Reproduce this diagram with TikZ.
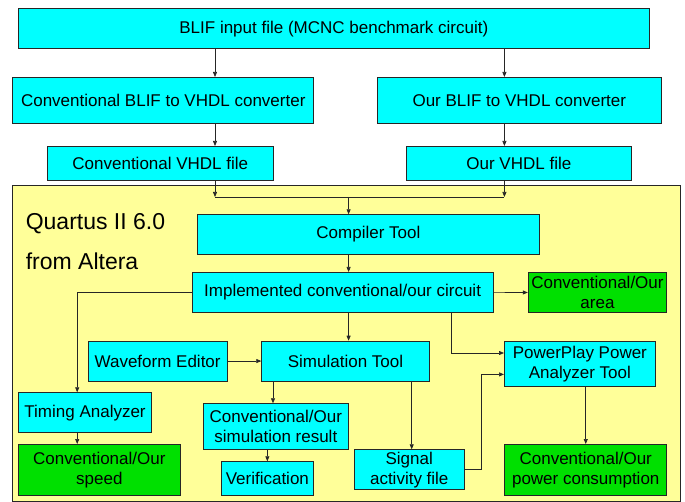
\documentclass[tikz,border=0pt]{standalone}
\usepackage{fontspec}
\setmainfont{Liberation Sans}
\usetikzlibrary{arrows.meta}

\definecolor{toolcyan}{RGB}{0,255,255}
\definecolor{resgreen}{RGB}{0,224,0}
\definecolor{qyellow}{RGB}{255,255,153}

\tikzset{
  box/.style={draw=black!85, line width=0.7pt, fill=toolcyan, inner sep=1pt,
    anchor=north west, align=center, font=\fontsize{17}{20}\selectfont},
  resbox/.style={box, fill=resgreen},
  arr/.style={draw=black!85, line width=0.7pt, -{Triangle[length=5pt,width=4pt]}},
  ln/.style={draw=black!85, line width=0.7pt}
}

\begin{document}
\begin{tikzpicture}[x=1pt,y=-1pt]
  \useasboundingbox (0,0) rectangle (685,502);

  % Quartus area
  \node[box, fill=qyellow, minimum width=668pt, minimum height=315.7pt] (quartus) at (12.4,185) {};
  \node[anchor=base west, inner sep=0pt, font=\fontsize{23}{26}\selectfont] (qname) at (25.6,229.3) {Quartus II 6.0};
  \node[anchor=base west, inner sep=0pt, font=\fontsize{23}{26}\selectfont] (qvendor) at (25.6,270) {from Altera};

  % input and converters
  \node[box, minimum width=631pt, minimum height=40pt] (blif) at (18,8.3) {BLIF input file (MCNC benchmark circuit)};
  \node[box, minimum width=301pt, minimum height=46pt] (convconv) at (12.4,77) {Conventional BLIF to VHDL converter};
  \node[box, minimum width=283.3pt, minimum height=46pt] (ourconv) at (377.3,77) {Our BLIF to VHDL converter};
  \node[box, minimum width=225.5pt, minimum height=34pt] (convvhdl) at (47.2,146) {Conventional VHDL file};
  \node[box, minimum width=225pt, minimum height=34pt] (ourvhdl) at (406,146) {Our VHDL file};

  % tools
  \node[box, minimum width=341.5pt, minimum height=39.7pt] (compiler) at (197.3,214.3) {Compiler Tool};
  \node[box, minimum width=300.5pt, minimum height=40pt] (impl) at (192,272) {Implemented conventional/our circuit};
  \node[resbox, minimum width=138.6pt, minimum height=40.3pt] (area) at (527.8,272) {Conventional/Our\\area};
  \node[box, minimum width=139pt, minimum height=40pt] (wave) at (87.8,340.7) {Waveform Editor};
  \node[box, minimum width=167.7pt, minimum height=40pt] (sim) at (261.3,340.7) {Simulation Tool};
  \node[box, minimum width=151pt, minimum height=45.3pt] (pp) at (504,340.7) {PowerPlay Power\\Analyzer Tool};
  \node[box, minimum width=133.4pt, minimum height=40pt] (timing) at (18,392.3) {Timing Analyzer};
  \node[resbox, minimum width=162pt, minimum height=51pt] (speed) at (18,444) {Conventional/Our\\speed};
  \node[box, minimum width=145pt, minimum height=45.7pt] (result) at (203,403.3) {Conventional/Our\\simulation result};
  \node[box, minimum width=92.6pt, minimum height=33.7pt] (verif) at (220.7,461.3) {Verification};
  \node[box, minimum width=109.8pt, minimum height=40pt] (signal) at (354,449.3) {Signal\\activity file};
  \node[resbox, minimum width=162pt, minimum height=51pt] (power) at (504.4,444) {Conventional/Our\\power consumption};

  % connector tracks
  \coordinate (cl) at (215,0);
  \coordinate (cr) at (504.4,0);
  \coordinate (mid) at (348.6,197);
  \coordinate (ct) at (77.2,0);
  \coordinate (cp) at (451.5,0);
  \coordinate (cs) at (273,0);
  \coordinate (ca) at (411.7,0);

  \draw[arr] (blif.south -| cl) -- (convconv.north -| cl);
  \draw[arr] (blif.south -| cr) -- (ourconv.north -| cr);
  \draw[arr] (convconv.south -| cl) -- (convvhdl.north -| cl);
  \draw[arr] (ourconv.south -| cr) -- (ourvhdl.north -| cr);
  \draw[arr] (convvhdl.south -| cl) -- (mid -| cl);
  \draw[arr] (ourvhdl.south -| cr) -- (mid -| cr);
  \draw[ln] (mid -| cl) -- (mid -| cr);
  \draw[arr] (mid) -- (compiler.north -| mid);
  \draw[arr] (compiler.south -| mid) -- (impl.north -| mid);
  \draw[arr] (impl.east) -- (area.west);
  \draw[arr] (impl.west) -| (timing.north -| ct);
  \draw[arr] (timing.south -| ct) -- (speed.north -| ct);
  \draw[arr] (impl.south -| mid) -- (sim.north -| mid);
  \draw[arr] (impl.south -| cp) |- ([yshift=10.7pt]pp.west);
  \draw[arr] (wave.east) -- (sim.west);
  \draw[arr] (sim.south -| cs) -- (result.north -| cs);
  \draw[arr] (sim.south -| ca) -- (signal.north -| ca);
  \draw[arr] (result.south -| verif.north) -- (verif.north);
  \draw[arr] (signal.east) -- ++(17,0) |- ([yshift=-10.7pt]pp.west);
  \draw[arr] (pp.south -| power.north) -- (power.north);
\end{tikzpicture}
\end{document}
